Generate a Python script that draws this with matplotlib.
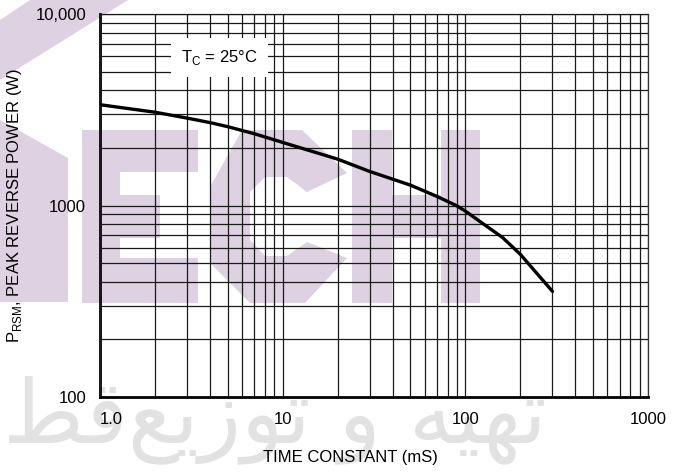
import numpy as np
import matplotlib
matplotlib.use("Agg")
import matplotlib.pyplot as plt
from matplotlib.patches import Polygon
from matplotlib.ticker import FixedLocator, LogLocator, NullFormatter

plt.rcParams['font.family'] = ['Liberation Sans', 'DejaVu Sans']
plt.rcParams['mathtext.fontset'] = 'custom'
plt.rcParams['mathtext.rm'] = 'Liberation Sans'

# ===============================
# DATA
# ===============================
time_ms = [1, 2, 3, 4, 5, 7, 10, 20, 30, 50, 70, 90, 100, 120, 160, 200, 300]
power_w = [3360, 3070, 2860, 2710, 2580, 2370, 2135, 1746, 1505, 1278, 1115, 995, 935, 826, 680, 556, 356]

x_ticks = [1, 10, 100, 1000]
x_labels = ['1.0', '10', '100', '1000']
y_ticks = [100, 1000, 10000]
y_labels = ['100', '1000', '10,000']

W, H = 683, 472
fig = plt.figure(figsize=(W / 100, H / 100), dpi=100)

# ===============================
# WATERMARK (behind the chart)
# ===============================
wm_purple = '#ddd1e2'
shapes = [
    # top-left band
    [(30, 0), (128, 0), (0, 80), (0, 20)],
    # left fragment
    [(0, 120), (68, 158), (68, 302), (0, 302)],
    # E
    [(82, 130), (198, 130), (198, 172), (120, 172), (120, 195), (160, 195),
     (160, 238), (120, 238), (120, 258), (198, 258), (198, 303), (82, 303)],
    # C
    [(242, 130), (302, 130), (347, 173), (307, 192), (287, 177), (265, 177),
     (250, 192), (250, 240), (265, 256), (287, 256), (307, 242), (347, 258),
     (305, 303), (250, 303), (210, 263), (210, 187)],
    # H
    [(352, 130), (392, 130), (392, 195), (441, 195), (441, 130), (480, 130),
     (480, 303), (441, 303), (441, 238), (392, 238), (392, 303), (352, 303)],
]
for pts in shapes:
    pts_fig = [(px / W, 1 - py / H) for px, py in pts]
    fig.patches.append(Polygon(pts_fig, closed=True, transform=fig.transFigure,
                               facecolor=wm_purple, edgecolor='none', zorder=-2))

arabic = '\uFEC2\uFED7\uFECA\uFBFE\uFEAF\uFEEE\uFE97 \uFEED \uFEEA\uFBFF\uFEEC\uFE97'
fig.text(547 / W, 1 - 420 / H, arabic, ha='right', va='center', fontsize=63,
         color='#e2e2e2', family=['DejaVu Sans'], zorder=-2)

# ===============================
# AXES
# ===============================
ax = fig.add_axes([100 / W, 1 - 397 / H, 548 / W, 383 / H])
ax.set_facecolor('none')
ax.set_xscale('log')
ax.set_yscale('log')
ax.set_xlim(1, 1000)
ax.set_ylim(100, 10000)

ax.plot(time_ms, power_w, color='black', linewidth=2.4, solid_capstyle='round', zorder=4)

ax.xaxis.set_major_locator(FixedLocator(x_ticks))
ax.yaxis.set_major_locator(FixedLocator(y_ticks))
ax.xaxis.set_minor_locator(LogLocator(base=10, subs=np.arange(2, 10)))
ax.yaxis.set_minor_locator(LogLocator(base=10, subs=np.arange(2, 10)))
ax.xaxis.set_minor_formatter(NullFormatter())
ax.yaxis.set_minor_formatter(NullFormatter())
ax.set_xticklabels(x_labels)
ax.set_yticklabels(y_labels)
ax.get_xticklabels()[0].set_horizontalalignment('left')

ax.tick_params(which='both', length=0, labelsize=12)
ax.tick_params(axis='x', pad=11)
ax.tick_params(axis='y', pad=10)
ax.grid(True, which='both', color='#1a1a1a', linewidth=0.9)
ax.set_axisbelow(False)

for side in ['top', 'right']:
    ax.spines[side].set_linewidth(0.9)
    ax.spines[side].set_color('#333333')
for side in ['left', 'bottom']:
    ax.spines[side].set_linewidth(2.0)

ax.text(4.5, 5900, r'T$_{\mathregular{C}}$ = 25°C', fontsize=12, ha='center', va='center',
        bbox=dict(boxstyle='square,pad=0.6', facecolor='white', edgecolor='none'), zorder=5)

ax.set_xlabel('TIME CONSTANT (mS)', fontsize=12)
ax.xaxis.set_label_coords(250 / 548, -53 / 383)
ax.set_ylabel(r'P$_{\mathregular{RSM}}$, PEAK REVERSE POWER (W)', fontsize=12, labelpad=8)

fig.savefig('out.png', dpi=100)
